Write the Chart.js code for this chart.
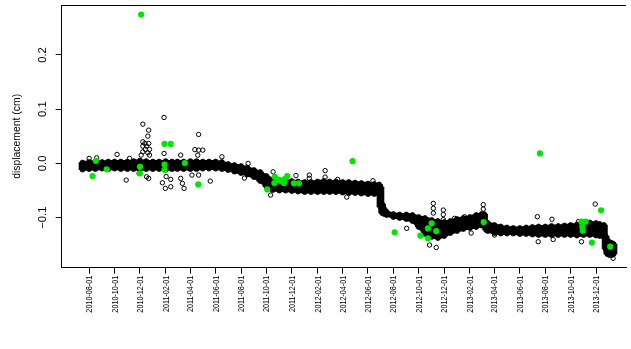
<!DOCTYPE html>
<html>
<head>
<meta charset="utf-8">
<script src="https://cdn.jsdelivr.net/npm/chart.js@4.4.0/dist/chart.umd.min.js"></script>
<style>
  html, body { margin: 0; padding: 0; background: #fff; overflow: hidden; }
  #wrap { width: 631px; height: 349px; position: relative; }
</style>
</head>
<body>
<div id="wrap"><canvas id="chart" width="631" height="349"></canvas></div>
<script>
// x axis tick positions (dates) and y axis ticks
const tickDates = ['2010-08-01','2010-10-01','2010-12-01','2011-02-01','2011-04-01','2011-06-01',
  '2011-08-01','2011-10-01','2011-12-01','2012-02-01','2012-04-01','2012-06-01','2012-08-01',
  '2012-10-01','2012-12-01','2013-02-01','2013-04-01','2013-06-01','2013-08-01','2013-10-01','2013-12-01'];
const yTickValues = [-0.1, 0.0, 0.1, 0.2];
const yTickLabels = ['\u22120.1', '0.0', '0.1', '0.2'];
const yTitle = 'displacement (cm)';

// axis limits
const xRange = ['2010-05-27', '2014-02-11'];
const yRange = [-0.1923, 0.2921];

// envelope of the dense daily record (upper / lower edge of the point cloud)
const bandDates = ['2010-07-16','2010-08-01','2010-08-16','2010-09-01','2010-09-16','2010-10-01','2010-10-16',
  '2010-11-01','2010-11-16','2010-12-01','2010-12-16',
  '2011-01-01','2011-01-16','2011-02-01','2011-02-16','2011-03-01','2011-03-16','2011-04-01','2011-04-16',
  '2011-05-01','2011-05-16','2011-06-01','2011-06-16','2011-07-01','2011-07-16','2011-08-01','2011-08-16',
  '2011-09-01','2011-09-16','2011-10-01','2011-10-16','2011-11-01','2011-11-16','2011-12-01','2011-12-16',
  '2012-01-01','2012-01-16','2012-02-01','2012-02-16','2012-03-01','2012-03-16','2012-04-01','2012-04-16',
  '2012-05-01','2012-05-16','2012-06-01','2012-06-16','2012-06-28','2012-07-01','2012-07-05','2012-07-10',
  '2012-07-16','2012-08-01','2012-08-16','2012-09-01','2012-09-16','2012-10-01','2012-10-16','2012-11-01',
  '2012-11-16','2012-12-01','2012-12-16',
  '2013-01-01','2013-01-16','2013-02-01','2013-02-16','2013-03-01','2013-03-07','2013-03-12','2013-03-16',
  '2013-04-01','2013-04-16','2013-05-01','2013-05-16','2013-06-01','2013-06-16','2013-07-01','2013-07-16',
  '2013-08-01','2013-08-16','2013-09-01','2013-09-16','2013-10-01','2013-10-16','2013-11-01','2013-11-16',
  '2013-12-01','2013-12-10','2013-12-20','2013-12-24','2013-12-28',
  '2014-01-02','2014-01-08','2014-01-12'];
const bandUpper = [0.0015,0.0024,0.0033,0.0024,0.0033,0.0033,0.0033,0.0033,0.0042,0.0052,0.0042,
  0.0033,0.0033,0.0042,0.0033,0.0033,0.0033,0.0042,0.0042,0.0033,0.0033,0.0033,0.0024,-0.0013,-0.0031,
  -0.0050,-0.0077,-0.0123,-0.0160,-0.0234,-0.0298,-0.0317,-0.0326,-0.0326,-0.0335,
  -0.0344,-0.0344,-0.0335,-0.0326,-0.0335,-0.0335,-0.0344,-0.0344,-0.0354,-0.0363,-0.0372,-0.0381,
  -0.0390,-0.0436,-0.0750,-0.0842,-0.0897,-0.0934,-0.0943,-0.0943,-0.0952,-0.0989,-0.1007,-0.1044,
  -0.1063,-0.1081,-0.1063,
  -0.1026,-0.1007,-0.0989,-0.0952,-0.0934,-0.0934,-0.1081,-0.1099,
  -0.1136,-0.1164,-0.1182,-0.1192,-0.1192,-0.1182,-0.1173,-0.1164,-0.1164,-0.1155,-0.1155,-0.1146,
  -0.1136,-0.1127,-0.1118,-0.1090,-0.1099,-0.1118,-0.1136,-0.1339,-0.1413,
  -0.1449,-0.1468,-0.1486];
const bandLower = [-0.0114,-0.0105,-0.0105,-0.0096,-0.0105,-0.0096,-0.0105,-0.0105,-0.0105,-0.0114,-0.0105,
  -0.0105,-0.0105,-0.0114,-0.0105,-0.0105,-0.0105,-0.0105,-0.0105,-0.0096,-0.0096,-0.0096,-0.0105,-0.0123,-0.0151,
  -0.0179,-0.0206,-0.0252,-0.0326,-0.0427,-0.0492,-0.0501,-0.0501,-0.0510,-0.0519,
  -0.0529,-0.0529,-0.0529,-0.0529,-0.0529,-0.0529,-0.0538,-0.0547,-0.0547,-0.0556,-0.0565,-0.0565,
  -0.0565,-0.0804,-0.0915,-0.0934,-0.0952,-0.0989,-0.1007,-0.1026,-0.1063,-0.1173,-0.1302,-0.1357,
  -0.1376,-0.1339,-0.1284,
  -0.1247,-0.1210,-0.1192,-0.1173,-0.1146,-0.1146,-0.1228,-0.1247,
  -0.1284,-0.1293,-0.1293,-0.1293,-0.1302,-0.1302,-0.1311,-0.1320,-0.1320,-0.1320,-0.1320,-0.1320,
  -0.1320,-0.1330,-0.1320,-0.1320,-0.1330,-0.1339,-0.1357,-0.1578,-0.1670,
  -0.1689,-0.1689,-0.1670];

// isolated readings outside the main cloud
const outlierDates = ['2010-08-01','2010-08-19','2010-10-07','2010-10-29','2010-11-06',
  '2010-12-08','2010-12-22','2010-12-20','2010-12-08','2010-12-13','2010-12-22','2010-12-08','2010-12-17',
  '2010-12-14','2010-12-24','2010-12-08','2010-12-20','2010-12-04','2010-12-24','2010-11-29','2010-12-22','2010-12-17',
  '2011-01-28','2011-01-28','2011-01-24','2011-01-31','2011-02-13','2011-02-13','2011-02-02',
  '2011-03-09','2011-03-13','2011-03-17','2011-03-09','2011-04-05','2011-04-21','2011-04-12','2011-04-21',
  '2011-05-01','2011-04-21','2011-04-19','2011-05-19','2011-06-16','2011-08-09','2011-08-18',
  '2011-10-11','2011-10-17','2011-12-11','2012-01-12','2012-01-12','2012-02-19','2012-02-19','2012-03-20',
  '2012-04-11','2012-06-13',
  '2012-09-02','2012-10-27','2012-11-12','2012-11-05','2012-11-05','2012-11-05','2012-11-29','2012-11-29',
  '2012-11-29','2012-12-26','2013-01-19','2013-02-04','2013-03-05','2013-03-05',
  '2013-04-01','2013-07-13','2013-07-15','2013-08-17','2013-08-20','2013-10-27','2013-11-29','2013-10-20',
  '2014-01-11'];
const outlierValues = [0.0092,0.0103,0.0166,-0.0308,0.0092,
  0.0724,0.0613,0.0503,0.0398,0.0368,0.0368,0.0319,0.0319,
  0.0258,0.0258,0.0214,0.0195,0.0153,0.0153,-0.0184,-0.0276,-0.0247,
  0.0847,0.0184,-0.0357,-0.0460,-0.0295,-0.0431,-0.0243,
  0.0153,-0.0368,-0.0460,-0.0276,-0.0215,-0.0215,0.0254,0.0245,
  0.0245,0.0534,0.0153,-0.0326,0.0122,-0.0271,0.0000,
  -0.0584,-0.0155,-0.0225,-0.0215,-0.0276,-0.0133,-0.0252,-0.0295,
  -0.0621,-0.0320,
  -0.1197,-0.1505,-0.1551,-0.0737,-0.0829,-0.0915,-0.0860,-0.0943,
  -0.1035,-0.1013,-0.0983,-0.1284,-0.0759,-0.0842,
  -0.1320,-0.0983,-0.1444,-0.1029,-0.1403,-0.1444,-0.0750,-0.1072,
  -0.1749];

// flagged readings (drawn as solid green dots)
const flaggedDates = ['2010-12-04','2010-08-17','2010-08-09','2010-09-12','2010-12-01','2010-12-01',
  '2011-01-29','2011-02-13','2011-01-29','2011-01-29','2011-03-19','2011-04-20',
  '2011-10-03','2011-10-21','2011-10-20','2011-10-31','2011-11-05','2011-11-14','2011-11-20','2011-11-12',
  '2011-12-06','2011-12-18','2012-04-25','2012-08-04','2012-10-05','2012-10-23','2012-10-23','2012-11-01',
  '2012-11-12','2013-03-06','2013-07-19','2013-10-27','2013-11-06','2013-10-29','2013-10-30','2013-11-21',
  '2013-12-13','2014-01-04'];
const flaggedValues = [0.2744,0.0048,-0.0234,-0.0109,-0.0063,-0.0184,
  0.0359,0.0359,-0.0022,-0.0118,0.0006,-0.0387,
  -0.0479,-0.0247,-0.0363,-0.0298,-0.0326,-0.0289,-0.0234,-0.0363,
  -0.0368,-0.0368,0.0042,-0.1271,-0.1333,-0.1197,-0.1381,-0.1105,
  -0.1247,-0.1081,0.0184,-0.1075,-0.1075,-0.1168,-0.1241,-0.1459,
  -0.0864,-0.1536];

const toX = d => Date.parse(d);
const pts = (dates, vals) => dates.map((d, i) => ({ x: toX(d), y: vals[i] }));
const spans = dates => dates.map((d, i) => ({ x: toX(d), y: [bandLower[i], bandUpper[i]] }));

const FONT = '"Liberation Sans", Arial, Helvetica, sans-serif';

// frame top edge, rotated tick labels and axis title
const framePlugin = {
  id: 'frame',
  afterDraw(chart) {
    const { ctx, chartArea: a, scales } = chart;
    ctx.save();
    ctx.strokeStyle = '#000';
    ctx.lineWidth = 1;
    ctx.beginPath();
    ctx.moveTo(a.left, Math.round(a.top) + 0.5);
    ctx.lineTo(a.right, Math.round(a.top) + 0.5);
    ctx.stroke();

    ctx.fillStyle = '#000';

    // date labels, reading upwards and ending just under the tick marks
    ctx.font = '8.6px ' + FONT;
    ctx.textAlign = 'right';
    ctx.textBaseline = 'middle';
    tickDates.forEach(d => {
      const px = scales.x.getPixelForValue(toX(d));
      ctx.save();
      ctx.translate(px + 0.6, a.bottom + 8);
      ctx.rotate(-Math.PI / 2);
      ctx.scale(0.84, 1);
      ctx.fillText(d, 0, 0);
      ctx.restore();
    });

    ctx.font = '11.3px ' + FONT;
    ctx.textAlign = 'center';
    ctx.textBaseline = 'alphabetic';
    yTickValues.forEach((v, i) => {
      const py = scales.y.getPixelForValue(v);
      ctx.save();
      ctx.translate(45.7, py);
      ctx.rotate(-Math.PI / 2);
      ctx.fillText(yTickLabels[i], 0, 0);
      ctx.restore();
    });

    ctx.font = '10.4px ' + FONT;
    ctx.save();
    ctx.translate(20.3, (a.top + a.bottom) / 2);
    ctx.rotate(-Math.PI / 2);
    ctx.fillText(yTitle, 0, 0);
    ctx.restore();
    ctx.restore();
  }
};

const axisStyle = {
  grid: { display: true, offset: false, drawOnChartArea: false, drawTicks: true, tickLength: 6, color: '#000', lineWidth: 1 },
  border: { display: true, color: '#000', width: 1 }
};

const edgeStyle = {
  showLine: true,
  fill: false,
  borderColor: '#000',
  borderWidth: 3,
  tension: 0,
  pointRadius: 2.5,
  pointBorderWidth: 0.8,
  pointBackgroundColor: '#000',
  pointBorderColor: '#000'
};

new Chart(document.getElementById('chart'), {
  type: 'line',
  data: {
    datasets: [
      {
        label: 'flagged',
        data: pts(flaggedDates, flaggedValues),
        showLine: false,
        pointRadius: 3.1,
        pointBorderWidth: 0,
        pointBackgroundColor: '#00e600',
        pointBorderColor: '#00e600',
        order: 0
      },
      {
        label: 'outliers',
        data: pts(outlierDates, outlierValues),
        showLine: false,
        pointRadius: 2.2,
        pointBorderWidth: 1,
        pointBackgroundColor: 'rgba(255,255,255,0)',
        pointBorderColor: '#000',
        order: 1
      },
      Object.assign({ label: 'upper', data: pts(bandDates, bandUpper), order: 2 }, edgeStyle),
      Object.assign({ label: 'lower', data: pts(bandDates, bandLower), order: 3 }, edgeStyle),
      {
        // body of the cloud between the two edges
        type: 'bar',
        label: 'spread',
        data: spans(bandDates),
        backgroundColor: '#000',
        borderWidth: 0,
        barThickness: 7,
        grouped: false,
        order: 4
      }
    ]
  },
  options: {
    responsive: false,
    animation: false,
    devicePixelRatio: 1,
    events: [],
    layout: { padding: { top: 4.7, left: 0, right: 0, bottom: 0 } },
    plugins: { legend: { display: false }, tooltip: { enabled: false } },
    scales: {
      x: {
        type: 'linear',
        offset: false,
        min: toX(xRange[0]),
        max: toX(xRange[1]),
        afterBuildTicks: s => { s.ticks = tickDates.map(d => ({ value: toX(d) })); },
        afterFit: s => { s.height = 81.3; },
        ...axisStyle,
        ticks: { display: false }
      },
      y: {
        type: 'linear',
        min: yRange[0],
        max: yRange[1],
        afterBuildTicks: s => { s.ticks = yTickValues.map(v => ({ value: v })); },
        afterFit: s => { s.width = 61.7; },
        ...axisStyle,
        ticks: { display: false }
      }
    }
  },
  plugins: [framePlugin]
});
</script>
</body>
</html>
